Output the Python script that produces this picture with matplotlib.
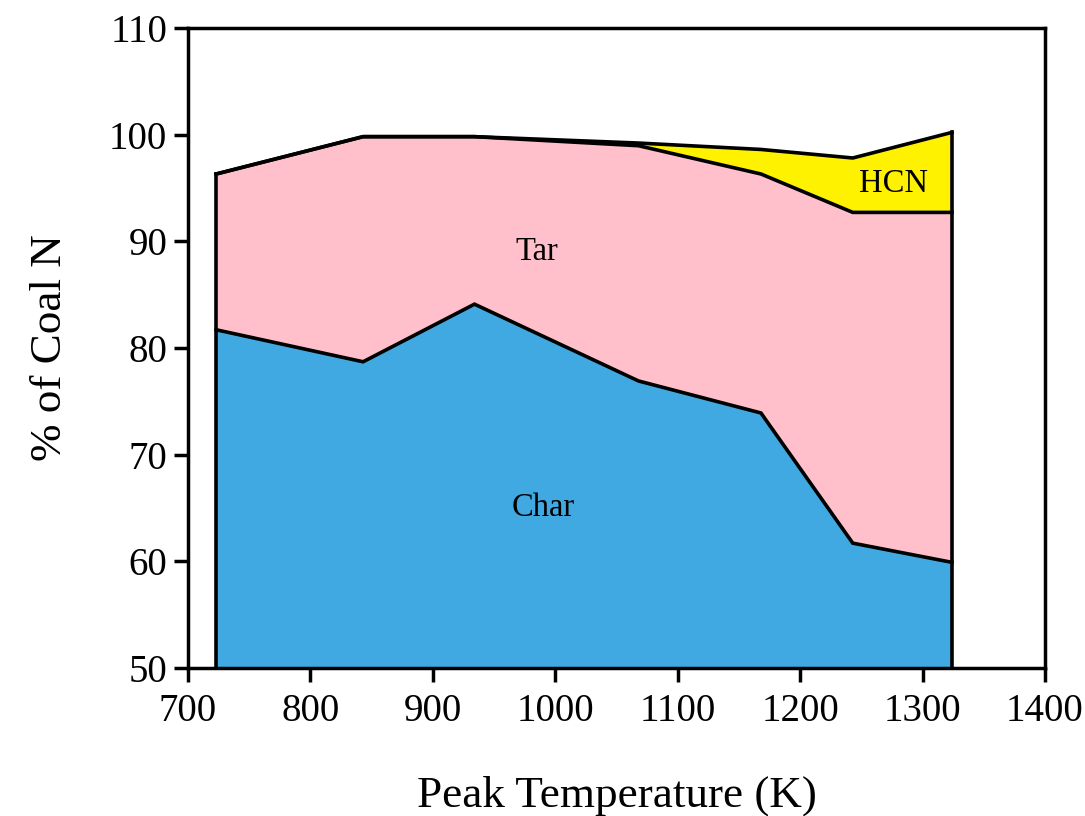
import matplotlib
matplotlib.use("Agg")
import matplotlib.pyplot as plt
import numpy as np

plt.rcParams['font.family'] = ['Liberation Serif', 'DejaVu Serif']

temps = [723, 843, 934, 1068, 1168, 1243, 1324]
char = [81.7, 78.7, 84.1, 76.9, 73.9, 61.7, 59.9]
tar = [14.6, 21.1, 15.7, 22.05, 22.4, 31.0, 32.8]
hcn = [0.0, 0.0, 0.0, 0.25, 2.3, 5.1, 7.5]

labels = ["Char", "Tar", "HCN"]
colors = ["#41A9E2", "#FFC0CB", "#FFF200"]

fig = plt.figure(figsize=(10.85, 8.16), dpi=100)
ax = fig.add_axes([0.1733, 0.1814, 0.7898, 0.7845])

t = np.array(temps)
c = np.array(char)
tt = c + np.array(tar)
ht = tt + np.array(hcn)

ax.stackplot(t, c, np.array(tar), np.array(hcn), colors=colors, linewidth=0)
lw = 2.6
ax.plot(t, c, color='black', lw=lw, solid_joinstyle='miter')
ax.plot(t, tt, color='black', lw=lw, solid_joinstyle='miter')
ax.plot(t, ht, color='black', lw=lw, solid_joinstyle='miter')
ax.plot([t[0], t[0]], [0, ht[0]], color='black', lw=lw)
ax.plot([t[-1], t[-1]], [0, ht[-1]], color='black', lw=lw)

ax.text(985, 89.0, "Tar", fontsize=23.5, ha='center', va='center')
ax.text(990, 65.0, "Char", fontsize=23.5, ha='center', va='center')
ax.text(1276, 95.4, "HCN", fontsize=23.5, ha='center', va='center')

ax.set_xlim(700, 1400)
ax.set_ylim(50, 110)
ax.set_xticks(range(700, 1401, 100))
ax.set_yticks(range(50, 111, 10))
ax.tick_params(direction='out', length=10, width=2.5, labelsize=28, pad=5)
ax.tick_params(axis='x', pad=8)
for s in ax.spines.values():
    s.set_linewidth(2.5)

ax.set_xlabel("Peak Temperature (K)", fontsize=32.5, labelpad=33)
ax.set_ylabel("% of Coal N", fontsize=32.5, labelpad=28)

fig.savefig("out.png", dpi=100)
